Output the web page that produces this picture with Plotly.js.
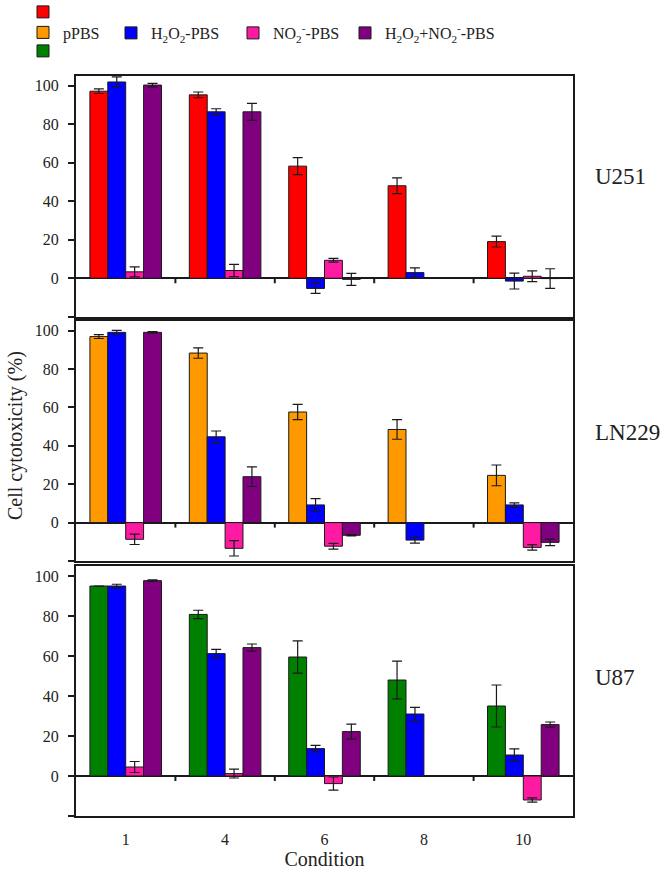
<!DOCTYPE html>
<html>
<head>
<meta charset="utf-8">
<script src="https://cdn.plot.ly/plotly-3.0.1.min.js"></script>
<style>
  body { margin: 0; background: #fff; }
  #chart { width: 666px; height: 873px; }
</style>
</head>
<body>
<div id="chart"></div>
<script>
// conditions on the x axis
var conditions = ['1', '4', '6', '8', '10'];

// U251 (top panel)
var u251_pPBS = [97.1, 95.2, 58.2, 48.0, 19.0];
var u251_pPBS_err = [1.2, 1.5, 4.4, 4.1, 2.8];
var u251_h2o2 = [101.9, 86.4, -5.3, 2.9, -1.5];
var u251_h2o2_err = [2.6, 1.6, 2.6, 2.5, 4.1];
var u251_no2 = [3.3, 4.0, 9.3, null, 1.0];
var u251_no2_err = [2.6, 3.2, 1.0, 0, 2.8];
var u251_mix = [100.3, 86.4, -0.6, null, -0.2];
var u251_mix_err = [0.9, 4.4, 3.1, 0, 5.1];

// LN229 (middle panel)
var ln229_pPBS = [96.9, 88.3, 57.6, 48.5, 24.6];
var ln229_pPBS_err = [1.0, 2.7, 4.0, 5.1, 5.4];
var ln229_h2o2 = [99.1, 44.7, 9.2, -9.1, 9.2];
var ln229_h2o2_err = [1.0, 3.0, 3.3, 1.6, 1.1];
var ln229_no2 = [-8.7, -13.4, -12.3, null, -12.9];
var ln229_no2_err = [2.7, 4.0, 1.5, 0, 1.4];
var ln229_mix = [99.1, 23.9, -6.6, null, -10.3];
var ln229_mix_err = [0.4, 5.1, 0.3, 0, 1.7];

// U87 (bottom panel)
var u87_pPBS = [95.0, 80.8, 59.5, 48.0, 35.0];
var u87_pPBS_err = [0, 2.1, 8.1, 9.4, 10.5];
var u87_h2o2 = [95.0, 61.2, 13.7, 31.0, 10.5];
var u87_h2o2_err = [0.9, 2.1, 1.6, 3.3, 3.1];
var u87_no2 = [4.5, 1.2, -3.8, null, -12.0];
var u87_no2_err = [2.75, 2.2, 3.3, 0, 1.1];
var u87_mix = [97.7, 64.2, 22.2, null, 25.7];
var u87_mix_err = [0.4, 1.8, 3.75, 0, 1.3];

var yTicks = [-20, 0, 20, 40, 60, 80, 100];
var yTickText = ['', '0', '20', '40', '60', '80', '100'];

var font = 'Liberation Serif, Times New Roman, serif';
var edge = '#1a1a1a';

function bar(y, err, color, name, xa, ya, legend, show) {
    return {
        type: 'bar',
        x: conditions,
        y: y,
        name: name,
        xaxis: xa,
        yaxis: ya,
        legend: legend,
        legendgroup: name,
        showlegend: show,
        marker: {color: color, line: {color: edge, width: 1}},
        error_y: {type: 'data', array: err, visible: true, color: edge, thickness: 1.2, width: 5},
        hoverinfo: 'x+y'
    };
}

var h2o2Name = 'H<sub>2</sub>O<sub>2</sub>-PBS';
var no2Name = 'NO<sub>2</sub><sup>-</sup>-PBS';
var mixName = 'H<sub>2</sub>O<sub>2</sub>+NO<sub>2</sub><sup>-</sup>-PBS';

var data = [
    bar(u251_pPBS, u251_pPBS_err, '#ff0000', ' ', 'x', 'y', 'legend', true),
    bar(ln229_pPBS, ln229_pPBS_err, '#ff9900', 'pPBS', 'x2', 'y2', 'legend2', true),
    bar(u87_pPBS, u87_pPBS_err, '#008000', '  ', 'x3', 'y3', 'legend3', true),

    bar(u251_h2o2, u251_h2o2_err, '#0000ff', h2o2Name, 'x', 'y', 'legend4', true),
    bar(u251_no2, u251_no2_err, '#ff1aa3', no2Name, 'x', 'y', 'legend4', true),
    bar(u251_mix, u251_mix_err, '#800080', mixName, 'x', 'y', 'legend5', true),

    bar(ln229_h2o2, ln229_h2o2_err, '#0000ff', h2o2Name, 'x2', 'y2', 'legend4', false),
    bar(ln229_no2, ln229_no2_err, '#ff1aa3', no2Name, 'x2', 'y2', 'legend4', false),
    bar(ln229_mix, ln229_mix_err, '#800080', mixName, 'x2', 'y2', 'legend5', false),

    bar(u87_h2o2, u87_h2o2_err, '#0000ff', h2o2Name, 'x3', 'y3', 'legend4', false),
    bar(u87_no2, u87_no2_err, '#ff1aa3', no2Name, 'x3', 'y3', 'legend4', false),
    bar(u87_mix, u87_mix_err, '#800080', mixName, 'x3', 'y3', 'legend5', false)
];

// the three panels, top to bottom
var domains = [[0.6747, 1.0], [0.3446, 0.6689], [0.0, 0.3378]];
var yRange = [-20, 105];
var axisIds = ['', '2', '3'];

// group boundaries for the small ticks on the zero line
var boundaries = conditions.slice(1).map(function (c, i) { return i + 0.5; });

function xAxis(i, labels) {
    return {
        type: 'category',
        categoryarray: conditions,
        range: [-0.5, conditions.length - 0.5],
        anchor: 'y' + axisIds[i],
        showline: true, mirror: true, linecolor: edge, linewidth: 2,
        ticks: '', showgrid: false, zeroline: false,
        showticklabels: labels,
        ticklabelstandoff: 8,
        tickfont: {family: font, size: 16, color: '#222'}
    };
}

function yAxis(i) {
    return {
        domain: domains[i],
        range: yRange,
        anchor: 'x' + axisIds[i],
        tickvals: yTicks, ticktext: yTickText,
        ticks: 'outside', ticklen: 6, tickwidth: 2, tickcolor: edge,
        ticklabelstandoff: 6,
        showline: true, mirror: true, linecolor: edge, linewidth: 2,
        showgrid: false,
        zeroline: true, zerolinecolor: edge, zerolinewidth: 2,
        tickfont: {family: font, size: 16, color: '#222'}
    };
}

// small downward ticks on each zero line, between the condition groups
var shapes = [];
axisIds.forEach(function (id) {
    boundaries.forEach(function (b) {
        shapes.push({
            type: 'line', xref: 'x' + id, yref: 'y' + id,
            x0: b, x1: b, ysizemode: 'pixel', yanchor: 0, y0: 0, y1: -5,
            line: {color: edge, width: 2}
        });
    });
});

function legendAt(cx, cy, extra) {
    var l = {
        xref: 'container', yref: 'container',
        x: (cx - 19) / 666, y: 1 - cy / 873, xanchor: 'left', yanchor: 'middle',
        orientation: 'h',
        font: {family: font, size: 16, color: '#222'},
        bgcolor: 'rgba(0,0,0,0)'
    };
    for (var k in extra) l[k] = extra[k];
    return l;
}

var layout = {
    width: 666,
    height: 873,
    margin: {l: 76, r: 93, t: 76, b: 57, autoexpand: false},
    paper_bgcolor: '#fff',
    plot_bgcolor: '#fff',
    font: {family: font, size: 16, color: '#222'},
    barmode: 'group',
    bargap: 0.28,
    bargroupgap: 0,

    xaxis: xAxis(0, false),
    xaxis2: xAxis(1, false),
    xaxis3: xAxis(2, true),
    yaxis: yAxis(0),
    yaxis2: yAxis(1),
    yaxis3: yAxis(2),

    shapes: shapes,

    legend: legendAt(42, 12),
    legend2: legendAt(42, 32.5),
    legend3: legendAt(42, 51),
    legend4: legendAt(130, 33, {entrywidth: 77, entrywidthmode: 'pixels'}),
    legend5: legendAt(364, 33),

    annotations: [
        {text: 'Cell cytotoxicity (%)', textangle: -90, xref: 'paper', yref: 'paper', x: -0.1227, y: 0.5135, xanchor: 'center', yanchor: 'middle', showarrow: false, font: {family: font, size: 20, color: '#222'}},
        {text: 'U251', xref: 'paper', yref: 'paper', x: 1.04, y: 0.864, xanchor: 'left', yanchor: 'middle', showarrow: false, font: {family: font, size: 23, color: '#222'}},
        {text: 'LN229', xref: 'paper', yref: 'paper', x: 1.04, y: 0.5176, xanchor: 'left', yanchor: 'middle', showarrow: false, font: {family: font, size: 23, color: '#222'}},
        {text: 'U87', xref: 'paper', yref: 'paper', x: 1.04, y: 0.1865, xanchor: 'left', yanchor: 'middle', showarrow: false, font: {family: font, size: 23, color: '#222'}}
    ]
};

layout.xaxis3.title = {text: 'Condition', standoff: 3, font: {family: font, size: 20, color: '#222'}};

Plotly.newPlot('chart', data, layout, {displayModeBar: false});
</script>
</body>
</html>
